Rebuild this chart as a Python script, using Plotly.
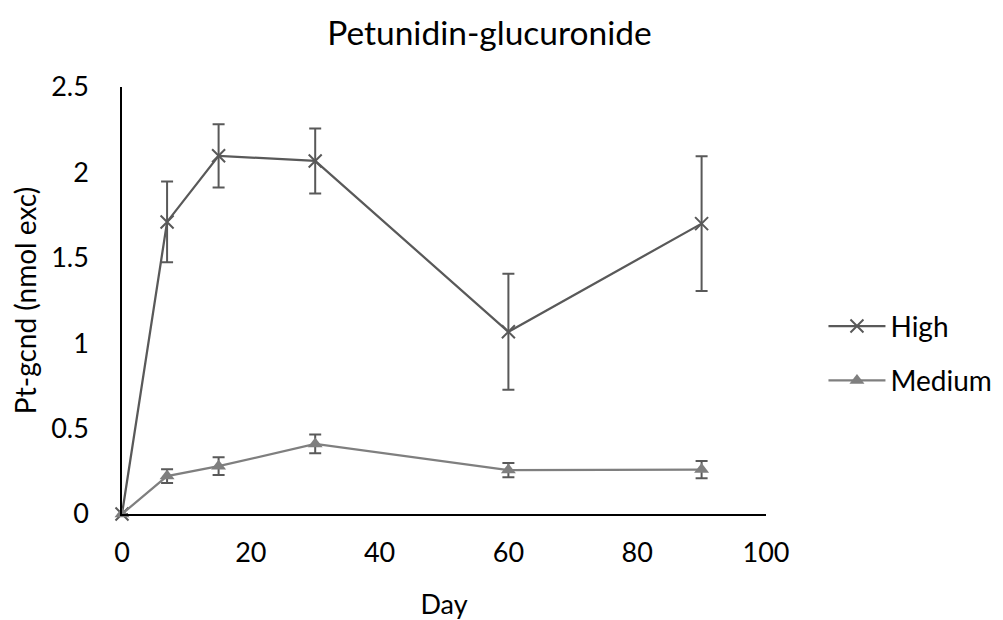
import plotly.graph_objects as go

days = [0, 7, 15, 30, 60, 90]
high = [0, 1.71, 2.097, 2.067, 1.067, 1.70]
high_err = [0, 0.236, 0.185, 0.19, 0.34, 0.395]
medium = [0, 0.222, 0.28, 0.41, 0.257, 0.26]
medium_err = [0, 0.04, 0.052, 0.055, 0.042, 0.05]

FONT = "Lato, Carlito, Calibri, sans-serif"

fig = go.Figure()

fig.add_trace(go.Scatter(
    x=days, y=high, name="High", mode="lines+markers",
    line=dict(color="#595959", width=2.25),
    marker=dict(symbol="x-thin-open", size=13, line=dict(color="#595959", width=2)),
    error_y=dict(type="data", array=high_err, color="#595959", thickness=2, width=6),
    cliponaxis=False, legendgroup="a",
))
fig.add_trace(go.Scatter(
    x=days, y=medium, name="Medium", mode="lines+markers",
    line=dict(color="#7f7f7f", width=2.25),
    marker=dict(symbol="triangle-up", size=13, color="#7f7f7f"),
    error_y=dict(type="data", array=medium_err, color="#595959", thickness=2, width=6),
    cliponaxis=False, legendgroup="b",
))

fig.update_layout(
    width=1003, height=620,
    margin=dict(l=122, r=237, t=87, b=106),
    paper_bgcolor="white", plot_bgcolor="white",
    font=dict(family=FONT, size=28, color="#000000"),
    title=dict(text="Petunidin-glucuronide", x=0.488, xanchor="center",
               y=0.947, yanchor="middle", font=dict(size=33.5)),
    xaxis=dict(range=[0, 100], tickvals=[0, 20, 40, 60, 80, 100],
               showgrid=False, zeroline=False, showline=True,
               linecolor="black", linewidth=2, ticks="", automargin=False,
               tickfont=dict(size=27), ticklabelstandoff=14,
               title=dict(text="Day", standoff=29, font=dict(size=27))),
    yaxis=dict(range=[0, 2.5], tickvals=[0, 0.5, 1, 1.5, 2, 2.5],
               ticktext=["0", "0.5", "1", "1.5", "2", "2.5"],
               showgrid=False, zeroline=False, showline=True,
               linecolor="black", linewidth=1.5, ticks="", automargin=False,
               tickfont=dict(size=27), ticklabelstandoff=26,
               title=dict(text="Pt-gcnd (nmol exc)", standoff=6, font=dict(size=28))),
    legend=dict(xref="container", yref="container",
                x=0.821, xanchor="left", y=0.514, yanchor="top",
                tracegroupgap=15, itemwidth=57, font=dict(size=28),
                bgcolor="rgba(0,0,0,0)"),
    showlegend=True,
)

fig.write_html("out.html")
